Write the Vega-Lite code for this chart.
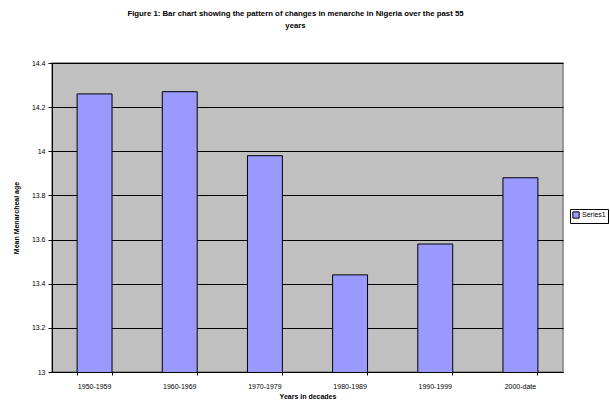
{
  "$schema": "https://vega.github.io/schema/vega-lite/v6.json",
  "autosize": "none",
  "width": 511,
  "height": 309,
  "padding": {"left": 52, "top": 63, "right": 47, "bottom": 29},
  "background": "white",
  "title": {
    "text": ["Figure 1: Bar chart showing the pattern of changes in menarche in Nigeria over the past 55", "years"],
    "font": "Liberation Sans",
    "fontSize": 7.8,
    "fontWeight": "bold",
    "color": "black",
    "anchor": "middle",
    "frame": "group",
    "dx": -12,
    "offset": 29,
    "lineHeight": 12
  },
  "data": {
    "values": [
      {"decade": "1950-1959", "age": 14.26, "series": "Series1"},
      {"decade": "1960-1969", "age": 14.27, "series": "Series1"},
      {"decade": "1970-1979", "age": 13.98, "series": "Series1"},
      {"decade": "1980-1989", "age": 13.44, "series": "Series1"},
      {"decade": "1990-1999", "age": 13.58, "series": "Series1"},
      {"decade": "2000-date", "age": 13.88, "series": "Series1"}
    ]
  },
  "mark": {"type": "bar", "stroke": "black", "strokeWidth": 1, "clip": true},
  "encoding": {
    "x": {
      "field": "decade",
      "type": "nominal",
      "sort": null,
      "scale": {"paddingInner": 0.59, "paddingOuter": 0.295},
      "axis": {
        "title": "Years in decades",
        "labelAngle": 0,
        "bandPosition": 1,
        "tickExtra": true,
        "labelFont": "Liberation Sans",
        "labelFontSize": 7,
        "labelColor": "black",
        "labelPadding": 7,
        "titleFont": "Liberation Sans",
        "titleFontSize": 7,
        "titleFontWeight": "bold",
        "titleColor": "black",
        "titlePadding": 3,
        "domainColor": "black",
        "domainWidth": 1,
        "tickColor": "black",
        "tickSize": 3
      }
    },
    "y": {
      "field": "age",
      "type": "quantitative",
      "scale": {"domain": [13, 14.4], "zero": false, "nice": false},
      "axis": {
        "title": "Mean Menarcheal age",
        "values": [13, 13.2, 13.4, 13.6, 13.8, 14, 14.2, 14.4],
        "format": "~g",
        "labelFont": "Liberation Sans",
        "labelFontSize": 7,
        "labelColor": "black",
        "labelPadding": 3,
        "titleFont": "Liberation Sans",
        "titleFontSize": 7,
        "titleFontWeight": "bold",
        "titleColor": "black",
        "titlePadding": 12,
        "domainColor": "black",
        "domainWidth": 1,
        "tickColor": "black",
        "tickSize": 4,
        "grid": true,
        "gridColor": "black",
        "gridWidth": 1
      }
    },
    "color": {
      "field": "series",
      "type": "nominal",
      "scale": {"range": ["#9999ff"]},
      "legend": {
        "title": null,
        "orient": "none",
        "legendX": 518,
        "legendY": 146,
        "symbolType": "square",
        "symbolSize": 40,
        "symbolStrokeColor": "black",
        "symbolStrokeWidth": 1,
        "labelFont": "Liberation Sans",
        "labelFontSize": 7,
        "labelColor": "black",
        "labelOffset": 2,
        "strokeColor": "black",
        "padding": 2,
        "fillColor": "white"
      }
    }
  },
  "config": {
    "view": {"fill": "#c0c0c0", "stroke": "#808080", "strokeWidth": 1.5}
  }
}
